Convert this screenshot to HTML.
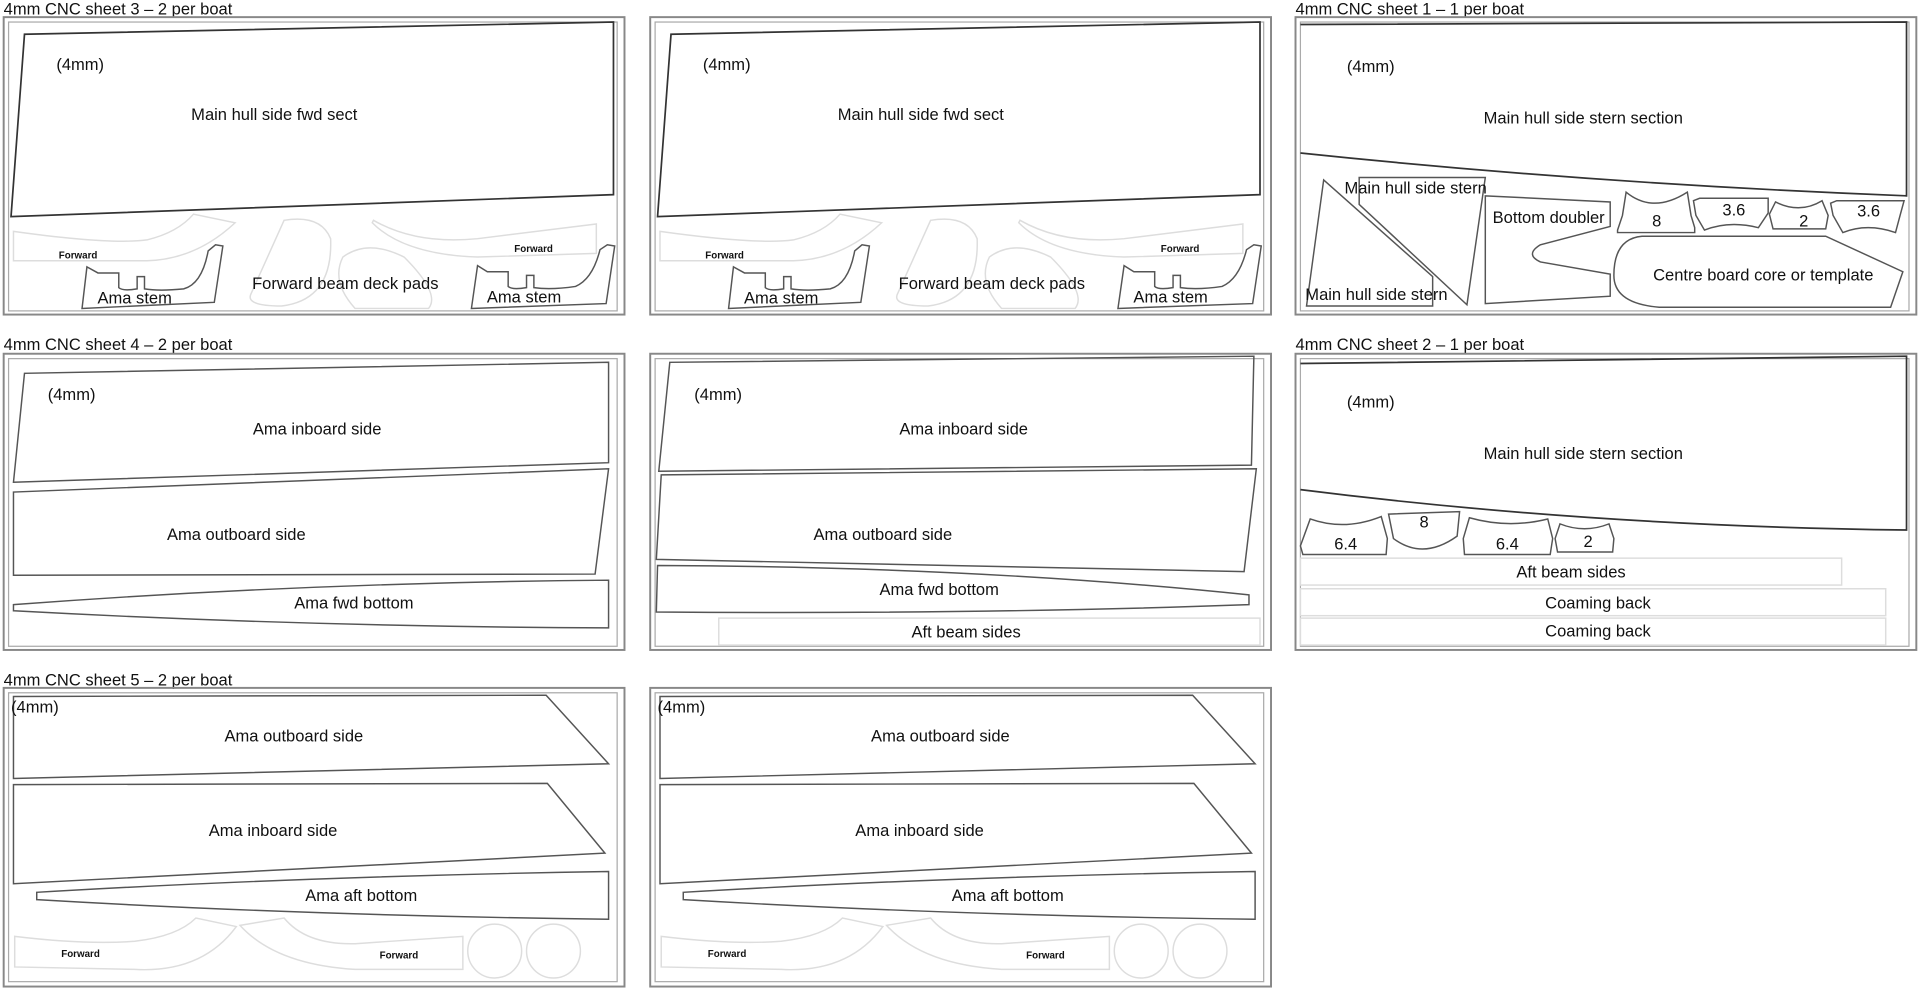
<!DOCTYPE html>
<html><head><meta charset="utf-8"><style>
html,body{margin:0;padding:0;background:#fff;}
svg{display:block;}
text{font-family:"Liberation Sans Narrow","Liberation Sans",sans-serif;fill:#111;}
.f{fill:none;stroke:#888;stroke-width:1.6}
.fi{fill:none;stroke:#aaa;stroke-width:1}
.p{fill:none;stroke:#555;stroke-width:1.2}
.h{fill:none;stroke:#333;stroke-width:1.4}
.g{fill:none;stroke:#ddd;stroke-width:1.2}
.t{font-size:13.5px}
.l{font-size:13.5px;text-anchor:middle}
.s{font-size:8px;font-weight:bold}
</style></head><body>
<svg width="1920" height="989" viewBox="0 0 1568 808" preserveAspectRatio="none" xmlns="http://www.w3.org/2000/svg">
<defs>
<g id="s3">
<rect class="f" x="3" y="14" width="507" height="243"/>
<rect class="fi" x="7" y="18" width="497" height="236"/>
<polygon class="h" points="20,28 501,18 501,159 9,177"/>
<text class="t" x="46" y="57">(4mm)</text>
<text class="l" x="224" y="98">Main hull side fwd sect</text>
<path class="g" d="M11,189 Q90,200 120,196 Q145,190 158,175 L192,182 Q160,212 120,213 L11,213 Z"/>
<path class="g" d="M305,180 Q340,200 390,195 L487,183 L487,207 L390,210 Q330,208 304,182 Z"/>
<path class="g" d="M232,180 Q262,175 270,195 Q272,245 230,250 Q200,250 205,240 Z"/>
<path class="g" d="M280,210 Q300,195 330,210 Q360,240 350,252 L290,252 Q270,230 280,210 Z"/>
<text class="s" x="48" y="211">Forward</text>
<text class="s" x="420" y="206">Forward</text>
<path class="p" d="M71,218 L80,223 L97,223 L97,235 Q100,238 112,236 L112,226 L118,226 L118,236 Q130,238 150,236 Q165,232 170,205 L176,200 L182,201 L175,247 L67,252 Z"/>
<path class="p" d="M390,217 L398,222 L415,222 L415,234 Q418,237 430,235 L430,225 L436,225 L436,235 Q450,237 470,234 Q484,228 490,204 L496,200 L502,201 L495,248 L385,252 Z"/>
<text class="l" x="110" y="248">Ama stem</text>
<text class="l" x="428" y="247">Ama stem</text>
<text class="l" x="282" y="236">Forward beam deck pads</text>
</g>
<g id="s4a">
<rect class="f" x="3" y="289" width="507" height="242"/>
<rect class="fi" x="7" y="293" width="497" height="235"/>
</g>
<g id="s5">
<rect class="f" x="3" y="562" width="507" height="244"/>
<rect class="fi" x="7" y="566" width="497" height="236"/>
<polygon class="p" points="11,569 446,568 497,624 11,636"/>
<text class="t" x="9" y="582">(4mm)</text>
<text class="l" x="240" y="606">Ama outboard side</text>
<polygon class="p" points="11,641 447,640 494,697 11,722"/>
<text class="l" x="223" y="683">Ama inboard side</text>
<path class="p" d="M30,729 Q250,716 497,712 L497,751 Q250,748 30,735 Z"/>
<text class="l" x="295" y="736">Ama aft bottom</text>
<path class="g" d="M12,765 Q70,772 110,769 Q145,765 160,750 L193,757 Q165,795 110,792 L12,790 Z"/>
<path class="g" d="M196,756 L232,750 Q250,772 290,771 L378,765 L378,792 L290,792 Q225,788 196,756 Z"/>
<circle class="g" cx="404" cy="777" r="22"/>
<circle class="g" cx="452" cy="777" r="22"/>
<text class="s" x="50" y="782">Forward</text>
<text class="s" x="310" y="783">Forward</text>
</g>
</defs>

<text class="t" x="3" y="12">4mm CNC sheet 3 – 2 per boat</text>
<use href="#s3"/>
<use href="#s3" x="528"/>

<text class="t" x="1058" y="12">4mm CNC sheet 1 – 1 per boat</text>
<rect class="f" x="1058" y="14" width="507" height="243"/>
<rect class="fi" x="1062" y="18" width="497" height="236"/>
<path class="h" d="M1062,20 L1557,18 L1557,160 Q1300,150 1062,125"/>
<text class="t" x="1100" y="59">(4mm)</text>
<text class="l" x="1293" y="101">Main hull side stern section</text>
<polygon class="p" points="1081,147 1170,226 1170,250 1067,250"/>
<polygon class="p" points="1110,145 1213,145 1198,249 1110,167"/>
<path class="p" d="M1213,160 L1315,165 L1315,185 L1258,200 Q1245,208 1258,214 L1315,224 L1315,242 L1213,248 Z"/>
<path class="p" d="M1321,188 L1325,176 L1328,157 Q1350,175 1378,157 L1381,176 L1384,186 L1384,190 L1321,190 Z"/>
<path class="p" d="M1383,164 L1388,162 L1444,162 L1444,174 L1436,186 Q1412,180 1392,188 L1385,176 Z"/>
<path class="p" d="M1445,175 L1450,165 Q1470,175 1488,164 L1493,176 L1491,187 L1448,187 Z"/>
<path class="p" d="M1495,166 L1500,164 L1555,164 L1552,175 L1548,190 Q1525,182 1505,190 L1497,176 Z"/>
<path class="p" d="M1341,193 L1491,193 L1554,222 L1544,251 L1355,251 Q1318,248 1318,225 Q1318,195 1341,193 Z"/>
<text class="t" x="1098" y="158">Main hull side stern</text>
<text class="t" x="1066" y="245">Main hull side stern</text>
<text class="t" x="1219" y="182">Bottom doubler</text>
<text class="l" x="1353" y="185">8</text>
<text class="l" x="1416" y="176">3.6</text>
<text class="l" x="1473" y="185">2</text>
<text class="l" x="1526" y="177">3.6</text>
<text class="l" x="1440" y="229">Centre board core or template</text>

<text class="t" x="3" y="286">4mm CNC sheet 4 – 2 per boat</text>
<use href="#s4a"/>
<polygon class="p" points="20,305 497,296 497,378 11,394"/>
<text class="t" x="39" y="327">(4mm)</text>
<text class="l" x="259" y="355">Ama inboard side</text>
<polygon class="p" points="11,402 497,383 486,469 11,470"/>
<text class="l" x="193" y="441">Ama outboard side</text>
<path class="p" d="M11,494 Q250,476 497,474 L497,513 Q250,512 11,499 Z"/>
<text class="l" x="289" y="497">Ama fwd bottom</text>

<use href="#s4a" x="528"/>
<polygon class="p" points="547,296 1024,291 1022,380 538,385"/>
<text class="t" x="567" y="327">(4mm)</text>
<text class="l" x="787" y="355">Ama inboard side</text>
<polygon class="p" points="540,388 1026,383 1016,467 536,457"/>
<text class="l" x="721" y="441">Ama outboard side</text>
<path class="p" d="M537,462 Q800,463 1020,486 L1020,494 Q800,502 536,500 Z"/>
<text class="l" x="767" y="486">Ama fwd bottom</text>
<rect class="g" x="587" y="505" width="442" height="22"/>
<text class="l" x="789" y="521">Aft beam sides</text>

<text class="t" x="1058" y="286">4mm CNC sheet 2 – 1 per boat</text>
<rect class="f" x="1058" y="289" width="507" height="242"/>
<rect class="fi" x="1062" y="293" width="497" height="235"/>
<path class="h" d="M1062,297 L1557,291 L1557,433 Q1300,430 1062,400"/>
<text class="t" x="1100" y="333">(4mm)</text>
<text class="l" x="1293" y="375">Main hull side stern section</text>
<path class="p" d="M1062,446 L1070,424 Q1098,434 1128,422 L1133,440 L1132,453 L1064,453 Z"/>
<path class="p" d="M1134,420 L1192,418 L1190,438 Q1162,458 1138,440 Z"/>
<path class="p" d="M1195,440 L1200,423 Q1232,432 1264,424 L1268,440 L1266,453 L1196,453 Z"/>
<path class="p" d="M1270,440 L1274,428 Q1294,436 1314,428 L1318,440 L1317,451 L1272,451 Z"/>
<text class="l" x="1099" y="449">6.4</text>
<text class="l" x="1163" y="431">8</text>
<text class="l" x="1231" y="449">6.4</text>
<text class="l" x="1297" y="447">2</text>
<rect class="g" x="1062" y="456" width="442" height="22"/>
<text class="l" x="1283" y="472">Aft beam sides</text>
<rect class="g" x="1062" y="481" width="478" height="22"/>
<text class="l" x="1305" y="497">Coaming back</text>
<rect class="g" x="1062" y="505" width="478" height="22"/>
<text class="l" x="1305" y="520">Coaming back</text>

<text class="t" x="3" y="560">4mm CNC sheet 5 – 2 per boat</text>
<use href="#s5"/>
<use href="#s5" x="528"/>
</svg>
</body></html>
